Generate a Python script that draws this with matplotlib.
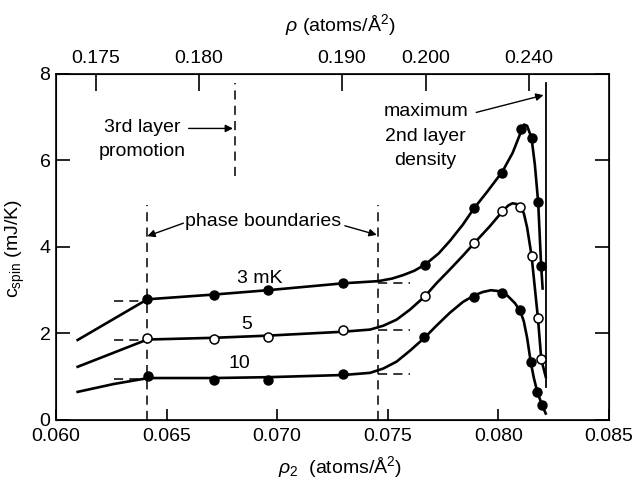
import matplotlib
matplotlib.use('Agg')
import matplotlib.pyplot as plt

plt.rcParams['font.family'] = ['Liberation Sans', 'DejaVu Sans']
plt.rcParams['mathtext.fontset'] = 'custom'
plt.rcParams['mathtext.rm'] = 'Liberation Sans'
plt.rcParams['mathtext.it'] = 'Liberation Sans:italic'

# ---------------- data ----------------
x_ticks = [0.060, 0.065, 0.070, 0.075, 0.080, 0.085]
x_tick_labels = ['0.060', '0.065', '0.070', '0.075', '0.080', '0.085']
y_ticks = [0, 2, 4, 6, 8]
top_tick_pos = [0.06181, 0.06646, 0.07293, 0.07673, 0.08139]
top_tick_labels = ['0.175', '0.180', '0.190', '0.200', '0.240']

# measured points
x3_pts = [0.06413, 0.06714, 0.06957, 0.07299, 0.07670, 0.07888, 0.08018, 0.08102, 0.08150, 0.08180, 0.08193]
y3_pts = [2.79, 2.90, 3.00, 3.16, 3.58, 4.91, 5.72, 6.72, 6.51, 5.03, 3.57]
x5_pts = [0.06413, 0.06714, 0.06957, 0.07296, 0.07670, 0.07891, 0.08018, 0.08099, 0.08150, 0.08179, 0.08194]
y5_pts = [1.89, 1.87, 1.93, 2.07, 2.87, 4.10, 4.83, 4.92, 3.80, 2.35, 1.40]
x10_pts = [0.06417, 0.06714, 0.06960, 0.07299, 0.07665, 0.07891, 0.08018, 0.08099, 0.08146, 0.08176, 0.08197]
y10_pts = [1.02, 0.92, 0.92, 1.06, 1.93, 2.85, 2.93, 2.54, 1.35, 0.65, 0.35]

# hand-drawn guide curves
x3_curve = [0.06098, 0.06413, 0.06714, 0.06957, 0.07299, 0.07457, 0.07520, 0.07570, 0.07620, 0.07671,
            0.07730, 0.07781, 0.07840, 0.07888, 0.07950, 0.08018, 0.08065, 0.08102, 0.08116, 0.08130,
            0.08150, 0.08165, 0.08180, 0.08193, 0.08200]
y3_curve = [1.85, 2.79, 2.90, 3.00, 3.16, 3.21, 3.27, 3.35, 3.45, 3.60,
            3.85, 4.14, 4.52, 4.88, 5.28, 5.74, 6.18, 6.66, 6.83, 6.80,
            6.52, 5.90, 5.03, 3.60, 3.04]
x5_curve = [0.06098, 0.06413, 0.06714, 0.06957, 0.07296, 0.07420, 0.07480, 0.07540, 0.07600, 0.07668,
            0.07720, 0.07781, 0.07840, 0.07891, 0.07960, 0.08018, 0.08045, 0.08064, 0.08085, 0.08099,
            0.08115, 0.08130, 0.08150, 0.08165, 0.08179, 0.08194, 0.08214]
y5_curve = [1.23, 1.86, 1.90, 1.95, 2.04, 2.09, 2.18, 2.32, 2.55, 2.86,
            3.16, 3.48, 3.80, 4.09, 4.47, 4.82, 4.96, 5.01, 4.99, 4.93,
            4.78, 4.45, 3.80, 3.05, 2.35, 1.40, 1.00]
x10_curve = [0.06098, 0.06259, 0.06417, 0.06714, 0.06960, 0.07299, 0.07420, 0.07480, 0.07540, 0.07600,
             0.07668, 0.07720, 0.07781, 0.07840, 0.07891, 0.07930, 0.07967, 0.08000, 0.08040, 0.08075,
             0.08099, 0.08115, 0.08130, 0.08146, 0.08160, 0.08176, 0.08197, 0.08214]
y10_curve = [0.65, 0.83, 0.97, 0.97, 0.99, 1.04, 1.09, 1.19, 1.35, 1.60,
             1.91, 2.18, 2.48, 2.73, 2.88, 2.96, 3.00, 2.98, 2.88, 2.70,
             2.52, 2.28, 1.90, 1.35, 0.98, 0.65, 0.35, 0.15]

# reference lines
phase_bound_x = [0.06413, 0.07457]
phase_bound_top = 4.97
promo_x = 0.06809
promo_y = [5.63, 7.79]
maxdens_x = 0.08214
maxdens_y = [0.77, 7.79]
left_ref_x = [0.06262, 0.06413]
left_ref_y = [2.75, 1.85, 0.95]
right_ref_x = [0.07457, 0.07600]
right_ref_y = [3.17, 2.08, 1.06]

# ---------------- figure ----------------
fig = plt.figure(figsize=(6.39, 4.80), dpi=100)
ax = fig.add_axes([0.0876, 0.125, 0.8654, 0.721])
ax.set_xlim(0.060, 0.085)
ax.set_ylim(0, 8)

lw_curve = 1.9
ax.plot(x3_curve, y3_curve, color='black', lw=lw_curve, zorder=3, solid_joinstyle='round')
ax.plot(x5_curve, y5_curve, color='black', lw=lw_curve, zorder=3, solid_joinstyle='round')
ax.plot(x10_curve, y10_curve, color='black', lw=lw_curve, zorder=3, solid_joinstyle='round')

ms = 6.5
ax.plot(x3_pts, y3_pts, 'o', color='black', ms=ms, zorder=4)
ax.plot(x5_pts, y5_pts, 'o', mfc='white', mec='black', mew=1.1, ms=ms, zorder=4)
ax.plot(x10_pts, y10_pts, 'o', color='black', ms=ms, zorder=4)

dash = (0, (6, 4))
for xb in phase_bound_x:
    ax.plot([xb, xb], [0, phase_bound_top], color='black', lw=1.1, ls=dash, zorder=2)
ax.plot([promo_x, promo_x], promo_y, color='black', lw=1.1, ls=dash, zorder=2)
ax.plot([maxdens_x, maxdens_x], maxdens_y, color='black', lw=1.3, zorder=2)
for yv in left_ref_y:
    ax.plot(left_ref_x, [yv, yv], color='black', lw=1.1, ls=dash, zorder=2)
for yv in right_ref_y:
    ax.plot(right_ref_x, [yv, yv], color='black', lw=1.1, ls=dash, zorder=2)

# annotations
fs_ann = 14
arr = dict(arrowstyle='-|>', color='black', lw=1.0, mutation_scale=11, shrinkA=0, shrinkB=0)
ax.text(0.06937, 4.59, 'phase boundaries', ha='center', va='center', fontsize=fs_ann)
ax.annotate('', xy=(0.06413, 4.25), xytext=(0.06576, 4.55), arrowprops=arr)
ax.annotate('', xy=(0.07450, 4.28), xytext=(0.07306, 4.49), arrowprops=arr)

ax.text(0.06389, 6.75, '3rd layer', ha='center', va='center', fontsize=fs_ann)
ax.text(0.06389, 6.20, 'promotion', ha='center', va='center', fontsize=fs_ann)
ax.annotate('', xy=(0.06800, 6.74), xytext=(0.06600, 6.74), arrowprops=arr)

ax.text(0.07671, 7.13, 'maximum', ha='center', va='center', fontsize=fs_ann)
ax.text(0.07671, 6.55, '2nd layer', ha='center', va='center', fontsize=fs_ann)
ax.text(0.07671, 6.01, 'density', ha='center', va='center', fontsize=fs_ann)
ax.annotate('', xy=(0.08204, 7.51), xytext=(0.07900, 7.11), arrowprops=arr)

ax.text(0.06922, 3.28, '3 mK', ha='center', va='center', fontsize=fs_ann)
ax.text(0.06862, 2.20, '5', ha='center', va='center', fontsize=fs_ann)
ax.text(0.06829, 1.31, '10', ha='center', va='center', fontsize=fs_ann)

# axes styling
for s in ax.spines.values():
    s.set_linewidth(1.2)
ax.set_xticks(x_ticks)
ax.set_xticklabels(x_tick_labels)
ax.set_yticks(y_ticks)
ax.set_yticklabels([str(v) for v in y_ticks])
ax.tick_params(axis='x', direction='in', length=8, width=1.2, labelsize=14, pad=6)
ax.tick_params(axis='y', direction='in', length=10, width=1.2, labelsize=14, pad=4,
               right=True)

top = ax.twiny()
top.set_xlim(ax.get_xlim())
top.set_xticks(top_tick_pos)
top.set_xticklabels(top_tick_labels)
top.tick_params(axis='x', direction='in', length=12, width=1.2, labelsize=14, pad=5)

ax.set_ylabel(r'c$_{\rm spin}$ (mJ/K)', fontsize=14)
ax.yaxis.set_label_coords(-0.052, 0.497)
ax.set_xlabel(r'$\rho_2$  (atoms/$\rm\AA^2$)', fontsize=14)
ax.xaxis.set_label_coords(0.514, -0.098)
top.set_xlabel(r'$\rho$ (atoms/$\rm\AA^2$)', fontsize=14)
top.xaxis.set_label_coords(0.514, 1.125)

fig.savefig('out.png', dpi=100)
